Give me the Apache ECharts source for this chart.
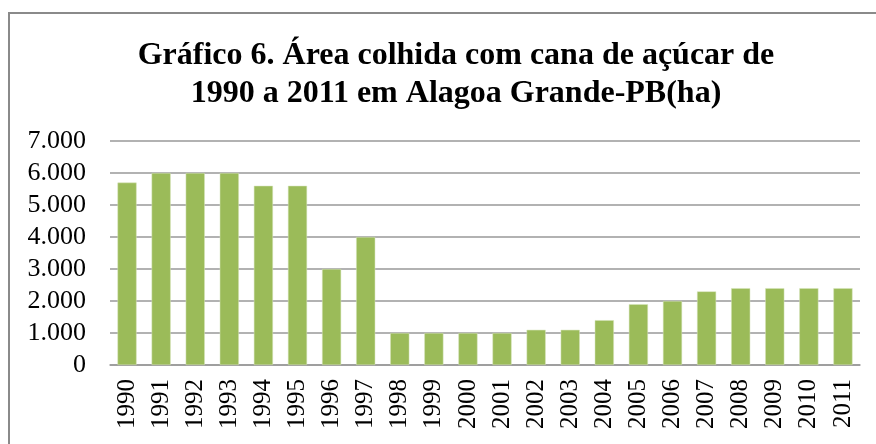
<!DOCTYPE html>
<html>
<head>
<meta charset="utf-8">
<script src="https://cdn.jsdelivr.net/npm/echarts@6/dist/echarts.min.js"></script>
<style>
  html, body { margin: 0; padding: 0; background: #fff; }
  #chart { width: 876px; height: 444px; }
</style>
</head>
<body>
<div id="chart"></div>
<script>
// dados
const anos = ['1990', '1991', '1992', '1993', '1994', '1995', '1996', '1997', '1998', '1999', '2000',
  '2001', '2002', '2003', '2004', '2005', '2006', '2007', '2008', '2009', '2010', '2011'];
const areaColhida = [5700, 6000, 6000, 6000, 5600, 5600, 3000, 4000, 1000, 1000, 1000,
  1000, 1100, 1100, 1400, 1900, 2000, 2300, 2400, 2400, 2400, 2400];
const titulo = 'Gráfico 6. Área colhida com cana de açúcar de\n1990 a 2011 em Alagoa Grande-PB(ha)';

const serif = '"Liberation Serif", "DejaVu Serif", serif';

const chartDom = document.getElementById('chart');
const myChart = echarts.init(chartDom);

const option = {
  animation: false,
  title: {
    text: titulo,
    left: 451,
    textAlign: 'center',
    top: 32,
    textStyle: {
      fontFamily: serif,
      fontWeight: 'bold',
      fontSize: 32,
      lineHeight: 38,
      color: '#000'
    }
  },
  graphic: [{
    type: 'rect',
    shape: { x: 9, y: 13, width: 900, height: 460 },
    style: { fill: 'none', stroke: '#8a8a8a', lineWidth: 2 },
    silent: true
  }],
  grid: { left: 110, right: 16, top: 141, bottom: 79 },
  xAxis: {
    type: 'category',
    data: anos,
    axisLine: { lineStyle: { color: '#999', width: 1.5 } },
    axisTick: { show: false },
    axisLabel: {
      rotate: 90,
      margin: 14,
      fontFamily: serif,
      fontSize: 25,
      color: '#000'
    }
  },
  yAxis: {
    type: 'value',
    min: 0,
    max: 7000,
    interval: 1000,
    axisLine: { show: false },
    axisTick: { show: false },
    splitLine: { lineStyle: { color: '#999', width: 1.5 } },
    axisLabel: {
      margin: 24,
      fontFamily: serif,
      fontSize: 26,
      color: '#000',
      formatter: v => v === 0 ? '0' : v.toLocaleString('pt-BR')
    }
  },
  series: [{
    type: 'bar',
    data: areaColhida,
    barWidth: '56%',
    itemStyle: { color: '#9bbb59', borderColor: '#d6e4bc', borderWidth: 0.5 }
  }]
};

option && myChart.setOption(option);
</script>
</body>
</html>
